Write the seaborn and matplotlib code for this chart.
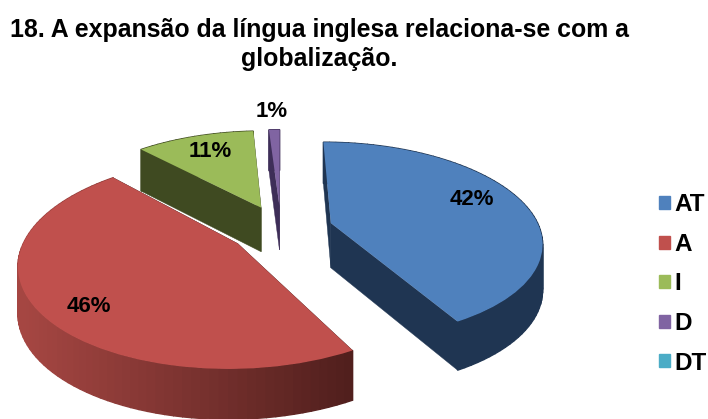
import numpy as np
import seaborn as sns
import matplotlib.pyplot as plt
from matplotlib.patches import Patch
from matplotlib.transforms import Transform

categorias = ["AT", "A", "I", "D", "DT"]
valores = [42, 46, 11, 1, 0]
cores = ["#4F81BD", "#C0504D", "#9BBB59", "#8064A2", "#4BACC6"]
# cor da parede lateral: (lado direito, lado esquerdo)
cores_lado = [("#1F3552", "#1F3552"), ("#4E1E1C", "#A54642"), ("#3F4A21", "#3F4A21"),
              ("#3E2E58", "#3E2E58"), ("#2A6273", "#2A6273")]
titulo = "18. A expansão da língua inglesa relaciona-se com a\nglobalização."

# geometria da pizza 3D (em pixels da figura)
CX, CY = 281, 229
RAIO, EXPLODE = 209, 52
ACHATA, PERSP, ALTURA = 0.465, 0.00085, 45


def projeta(x, y, base=0.0):
    w = 1 + PERSP * y
    return CX + x / w, CY - ACHATA * y / w + base / np.sqrt(w)


class Perspectiva(Transform):
    input_dims = output_dims = 2
    is_separable = False
    has_inverse = False

    def transform_non_affine(self, xy):
        xy = np.asarray(xy, dtype=float)
        sx, sy = projeta(xy[:, 0], xy[:, 1])
        return np.column_stack([sx, sy])


sns.set_theme(style="white")
plt.rcParams["font.family"] = ["Liberation Sans", "DejaVu Sans"]
plt.rcParams["text.color"] = "black"

fig = plt.figure(figsize=(7.08, 4.19), dpi=100)
ax = fig.add_axes([0, 0, 1, 1])

wedges, _ = ax.pie(valores, colors=cores, radius=RAIO, explode=[EXPLODE] * len(valores),
                   startangle=90, counterclock=False, wedgeprops={"linewidth": 0})
ax.set_aspect("auto")
ax.set_xlim(0, 708)
ax.set_ylim(419, 0)
ax.axis("off")

persp = Perspectiva() + ax.transData
ordem = {3: 1, 2: 2, 0: 3, 1: 4, 4: 0}  # de tras para frente

for i, w in enumerate(wedges):
    z = ordem[i] * 2
    w.set_transform(persp)
    w.set_zorder(z + 1)
    if valores[i] == 0:
        w.set_visible(False)
        continue
    cx, cy = w.center
    dir_rgb = np.array(sns.desaturate(cores_lado[i][0], 1))
    esq_rgb = np.array(sns.desaturate(cores_lado[i][1], 1))

    # paredes retas
    for ang in (w.theta1, w.theta2):
        xs = np.array([cx, cx + RAIO * np.cos(np.radians(ang))])
        ys = np.array([cy, cy + RAIO * np.sin(np.radians(ang))])
        x0, y0 = projeta(xs, ys)
        x1, y1 = projeta(xs, ys, ALTURA)
        ax.fill([x0[0], x0[1], x1[1], x1[0]], [y0[0], y0[1], y1[1], y1[0]],
                color=cores_lado[i][0], lw=0.3, zorder=z)

    # parede curva, em tiras para fazer o degrade
    angs = np.linspace(w.theta1, w.theta2, max(int(w.theta2 - w.theta1) // 2, 3))
    xs = cx + RAIO * np.cos(np.radians(angs))
    ys = cy + RAIO * np.sin(np.radians(angs))
    x0, y0 = projeta(xs, ys)
    x1, y1 = projeta(xs, ys, ALTURA)
    for k in range(len(angs) - 1):
        t = np.clip((x0[k] - 355) / (25 - 355), 0, 1)
        cor = tuple(dir_rgb + (esq_rgb - dir_rgb) * t)
        ax.fill([x0[k], x0[k + 1], x1[k + 1], x1[k]], [y0[k], y0[k + 1], y1[k + 1], y1[k]],
                color=cor, lw=1.0, zorder=z)

# rotulos de porcentagem
pos_rotulos = [(472, 199), (89, 306), (210, 151), (272, 111)]
for v, (px, py) in zip(valores, pos_rotulos):
    ax.text(px, py, f"{v}%", fontsize=16, fontweight="bold", ha="center", va="center", zorder=20)

ax.text(319, 44.5, titulo, fontsize=17.9, fontweight="bold", ha="center", va="center", linespacing=1.22)

handles = [Patch(color=c, label=n) for c, n in zip(cores, categorias)]
ax.legend(handles=handles, loc="center left", bbox_to_anchor=(659 / 708, 1 - 284 / 419), frameon=False,
          prop={"size": 17.5, "weight": "bold"}, handlelength=0.45, handleheight=0.45, handletextpad=0.2,
          labelspacing=0.68, borderpad=0, borderaxespad=0)

plt.savefig("out.png", dpi=100)
